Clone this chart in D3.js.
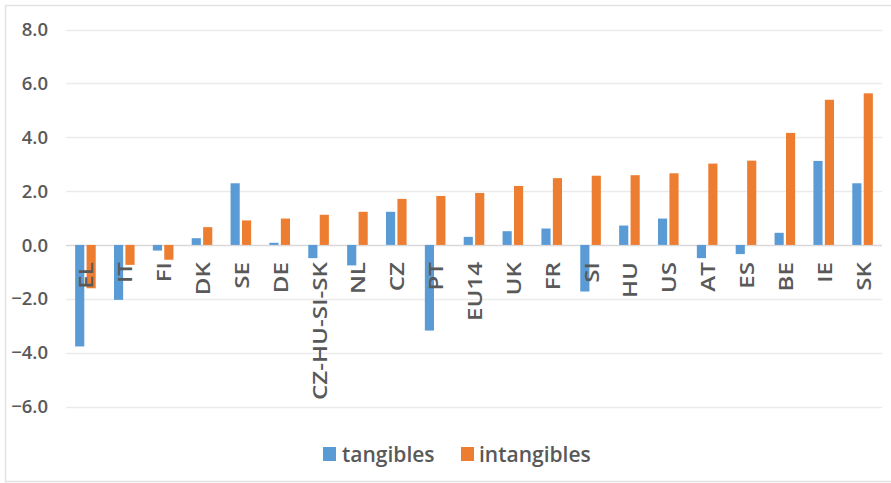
<!DOCTYPE html>
<html>
<head>
<meta charset="utf-8">
<script src="https://cdn.jsdelivr.net/npm/d3@7/dist/d3.min.js"></script>
<style>
  html, body { margin: 0; padding: 0; background: #fff; }
  svg { display: block; }
  text { font-family: "Open Sans", "DejaVu Sans", sans-serif; fill: #595959; }
</style>
</head>
<body>
<svg id="chart" width="891" height="483"></svg>
<script>
// Country codes along the category axis
const categories = ["EL", "IT", "FI", "DK", "SE", "DE", "CZ-HU-SI-SK", "NL", "CZ", "PT",
  "EU14", "UK", "FR", "SI", "HU", "US", "AT", "ES", "BE", "IE", "SK"];

// Series names shown in the legend
const seriesNames = ["tangibles", "intangibles"];

// Series values, one per country
const tangibles = [-3.77, -2.04, -0.21, 0.25, 2.29, 0.08, -0.49, -0.76, 1.23, -3.18,
  0.30, 0.51, 0.61, -1.73, 0.72, 0.98, -0.49, -0.34, 0.45, 3.12, 2.29];
const intangibles = [-1.61, -0.74, -0.55, 0.66, 0.91, 0.98, 1.12, 1.23, 1.71, 1.82,
  1.93, 2.19, 2.48, 2.57, 2.59, 2.66, 3.02, 3.13, 4.16, 5.39, 5.63];

// Value axis ticks
const yTicks = [-6, -4, -2, 0, 2, 4, 6, 8];

const colors = { tangibles: "#5B9BD5", intangibles: "#ED7D31" };
const seriesValues = { tangibles, intangibles };

const svg = d3.select("#chart");

// Outer chart frame
svg.append("rect")
  .attr("x", 5.5).attr("y", 5.5)
  .attr("width", 892).attr("height", 476)
  .attr("fill", "#fff")
  .attr("stroke", "#e3e3e3")
  .attr("stroke-width", 1.5);

const plot = { left: 66, right: 882 };

const y = d3.scaleLinear().domain([-6, 8]).range([406.5, 29.5]);

const x0 = d3.scaleBand()
  .domain(categories)
  .range([plot.left, plot.right])
  .paddingInner(0.47)
  .paddingOuter(0.235);

const x1 = d3.scaleBand()
  .domain(seriesNames)
  .range([0, x0.bandwidth()])
  .paddingInner(0.2);

// Horizontal gridlines
svg.append("g")
  .selectAll("line")
  .data(yTicks)
  .join("line")
  .attr("x1", plot.left).attr("x2", plot.right)
  .attr("y1", d => Math.round(y(d)) + 0.5)
  .attr("y2", d => Math.round(y(d)) + 0.5)
  .attr("stroke", d => d === 0 ? "#d9d9d9" : "#ebebeb")
  .attr("stroke-width", 1.5);

// Value axis labels
svg.append("g")
  .selectAll("text")
  .data(yTicks)
  .join("text")
  .attr("x", 48)
  .attr("y", d => y(d))
  .attr("dy", "0.36em")
  .attr("text-anchor", "end")
  .style("font-size", "18.5px")
  .style("font-weight", 600)
  .text(d => d3.format(".1f")(d));

// Bars
const groups = svg.append("g")
  .selectAll("g")
  .data(categories)
  .join("g")
  .attr("transform", d => `translate(${x0(d)},0)`);

groups.selectAll("rect")
  .data((d, i) => seriesNames.map(s => ({ key: s, value: seriesValues[s][i] })))
  .join("rect")
  .attr("x", d => x1(d.key))
  .attr("width", x1.bandwidth())
  .attr("y", d => y(Math.max(0, d.value)))
  .attr("height", d => Math.abs(y(d.value) - y(0)))
  .attr("fill", d => colors[d.key]);

// Category labels, rotated, drawn just below the zero line
svg.append("g")
  .selectAll("text")
  .data(categories)
  .join("text")
  .attr("transform", d => `translate(${x0(d) + x0.bandwidth() / 2 + 1},262) scale(1,1.24) rotate(-90)`)
  .attr("text-anchor", "end")
  .attr("dy", "0.36em")
  .style("font-size", "19.5px")
  .style("font-weight", 600)
  .text(d => d);

// Legend
const legend = svg.append("g");
const legendItems = [
  { key: "tangibles", x: 323, tx: 342 },
  { key: "intangibles", x: 461, tx: 479 }
];
legend.selectAll("rect")
  .data(legendItems)
  .join("rect")
  .attr("x", d => d.x).attr("y", 447)
  .attr("width", 13).attr("height", 14)
  .attr("fill", d => colors[d.key]);
legend.selectAll("text")
  .data(legendItems)
  .join("text")
  .attr("x", d => d.tx).attr("y", 454)
  .attr("dy", "0.36em")
  .style("font-size", "21px")
  .style("font-weight", 600)
  .text(d => d.key);
</script>
</body>
</html>
